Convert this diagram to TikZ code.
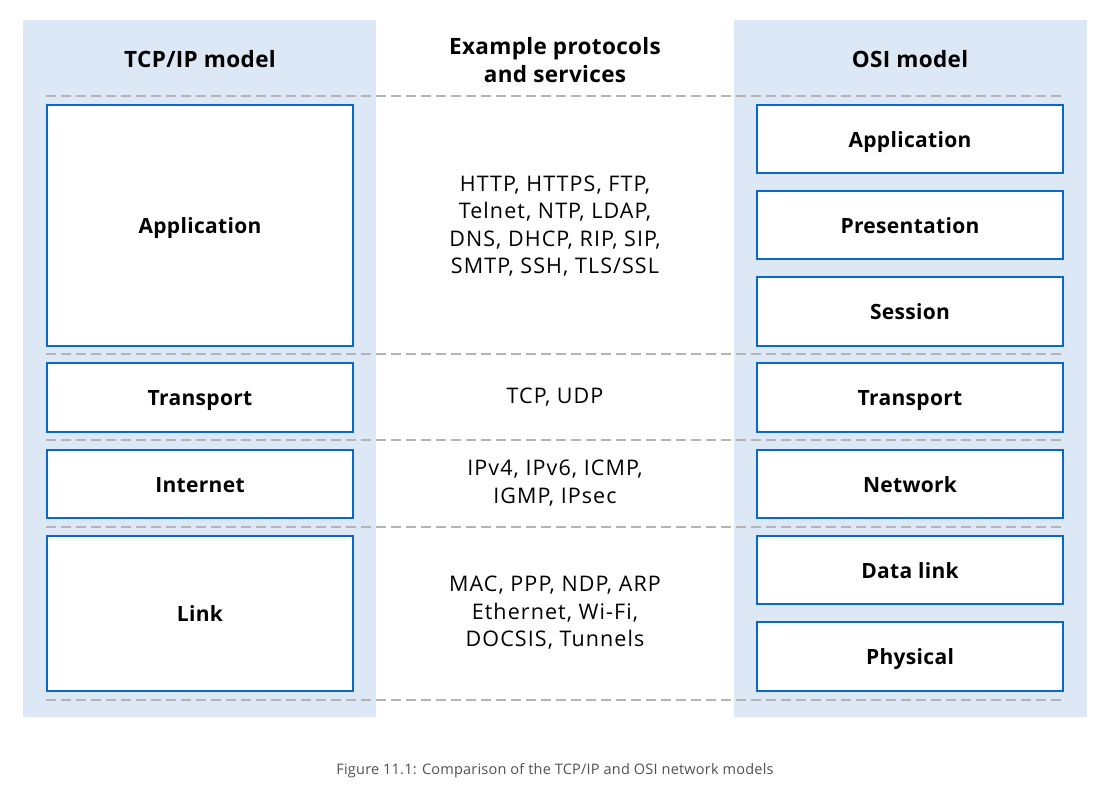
\documentclass[tikz,border=0pt]{standalone}
\usepackage{fontspec}
\setmainfont{Open Sans}
\definecolor{panelblue}{HTML}{DCE8F5}
\definecolor{boxblue}{HTML}{0A68CC}
\definecolor{dashgray}{HTML}{B4B4B4}
\definecolor{capgray}{HTML}{505050}
\tikzset{
  panel/.style={fill=panelblue, draw=none},
  layer/.style={draw=boxblue, line width=1.8pt, fill=white, text height=18pt, text depth=2pt,
    font=\fontsize{21}{25}\selectfont\bfseries\addfontfeatures{LetterSpace=1.5}},
  header/.style={font=\fontsize{22.5}{28}\selectfont\bfseries\addfontfeatures{LetterSpace=1.5}, align=center},
  proto/.style={font=\fontsize{21.5}{27.5}\selectfont\addfontfeatures{LetterSpace=5}, align=center},
  sep/.style={draw=dashgray, line width=1.8pt, dash pattern=on 10pt off 5pt},
}
\begin{document}
\begin{tikzpicture}[x=1pt,y=-1pt]
\useasboundingbox (0,0) rectangle (1097,790);
% panels
\fill[panel] (23,20) rectangle (376,717);
\fill[panel] (734,20) rectangle (1087,717);
% separators
\foreach \yy/\nm in {96/a,354/b,440/c,527/d,700/e}{
  \coordinate (L\nm) at (46,\yy);
  \coordinate (R\nm) at (1064,\yy);
}
\foreach \nm in {a,b,c,d,e}{ \path[sep] (L\nm) -- (R\nm); }
% headers
\node[header] (htcp) at (200,59) {TCP/IP model};
\node[header] (hex) at (555,60) {Example protocols\\and services};
\node[header] (hosi) at (910,59) {OSI model};
% TCP/IP layers
\node[layer, minimum width=306pt, minimum height=241pt] (tapp) at (200,225.5) {Application};
\node[layer, minimum width=306pt, minimum height=69pt] (ttra) at (200,397.5) {Transport};
\node[layer, minimum width=306pt, minimum height=68pt] (tint) at (200,484) {Internet};
\node[layer, minimum width=306pt, minimum height=155pt] (tlink) at (200,613.5) {Link};
% OSI layers
\node[layer, minimum width=306pt, minimum height=68pt] (oapp) at (910,139) {Application};
\node[layer, minimum width=306pt, minimum height=68pt] (opre) at (910,225) {Presentation};
\node[layer, minimum width=306pt, minimum height=69pt] (oses) at (910,311.5) {Session};
\node[layer, minimum width=306pt, minimum height=69pt] (otra) at (910,397.5) {Transport};
\node[layer, minimum width=306pt, minimum height=68pt] (onet) at (910,484) {Network};
\node[layer, minimum width=306pt, minimum height=68pt] (odl) at (910,570) {Data link};
\node[layer, minimum width=306pt, minimum height=69pt] (ophy) at (910,656.5) {Physical};
% protocols
\node[proto] (papp) at (555,226) {HTTP, HTTPS, FTP,\\Telnet, NTP, LDAP,\\DNS, DHCP, RIP, SIP,\\SMTP, SSH, TLS/SSL};
\node[proto] (ptra) at (555,397) {TCP, UDP};
\node[proto] (pint) at (555,483) {IPv4, IPv6, ICMP,\\IGMP, IPsec};
\node[proto] (plink) at (555,613) {MAC, PPP, NDP, ARP\\Ethernet, Wi-Fi,\\DOCSIS, Tunnels};
% caption
\node[font=\fontsize{14.5}{17}\selectfont\addfontfeatures{LetterSpace=1.5}, text=capgray] (cap) at (555,771) {Figure 11.1: Comparison of the TCP/IP and OSI network models};
\end{tikzpicture}
\end{document}
